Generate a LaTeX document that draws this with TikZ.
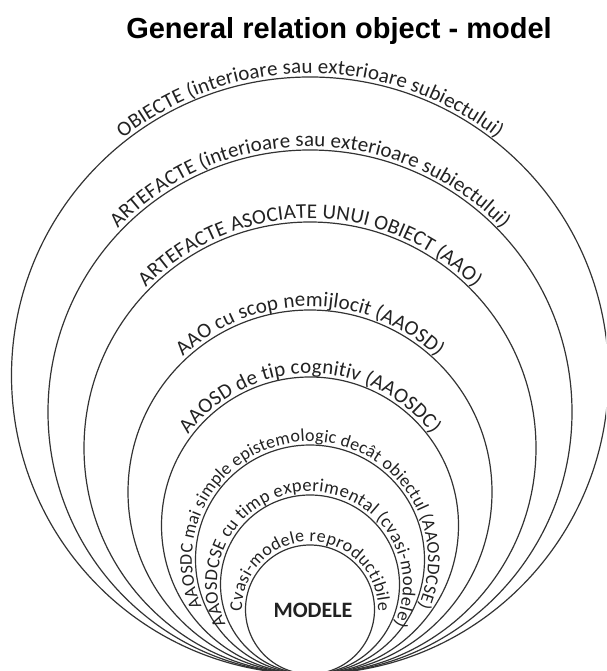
\documentclass[tikz,border=0pt]{standalone}
\usepackage{fontspec}
\setmainfont{Carlito}
\newfontfamily\titlefont{Liberation Sans}
\usetikzlibrary{decorations.text}
\definecolor{ink}{HTML}{222222}
\definecolor{ring}{HTML}{333333}
\tikzset{
  ringline/.style={draw=ring, line width=1.2pt},
}
% #1 radius, #2 font size, #3 text
\newcommand\ringlabel[3]{%
  \path[decorate, decoration={text along path, text align=center, raise=3.5pt,
      text color=ink, text={|\fontsize{#2}{#2}\selectfont|#3}}]
    (310,#1-3) ++(240:#1pt) arc[start angle=240, end angle=-60, radius=#1pt];%
  \draw[ringline] (310,#1-3) circle[radius=#1pt];%
}
\begin{document}
\begin{tikzpicture}[x=1pt,y=1pt]
\useasboundingbox (0,0) rectangle (606,671);
\clip (0,0) rectangle (606,671);
\node[font=\titlefont\bfseries\fontsize{29}{29}\selectfont, anchor=base, text=black]
  (title) at (339,632) {General relation object - model};
\ringlabel{298.5}{21}{OBIECTE (interioare sau exterioare subiectului)}
\ringlabel{262}{21}{ARTEFACTE (interioare sau exterioare subiectului)}
\ringlabel{226}{21}{ARTEFACTE ASOCIATE UNUI OBIECT (AAO)}
\ringlabel{182}{21}{AAO cu scop nemijlocit (AAOSD)}
\ringlabel{148.5}{21}{AAOSD de tip cognitiv (AAOSDC)}
\ringlabel{114.5}{18}{AAOSDC mai simple epistemologic decât obiectul (AAOSDCSE)}
\ringlabel{89.5}{18.5}{AAOSDCSE cu timp experimental (cvasi-modele)}
\ringlabel{64.5}{18}{Cvasi-modele reproductibile}
\node[font=\bfseries\fontsize{22}{22}\selectfont, anchor=base, text=ink]
  (modele) at (313,53) {MODELE};
\end{tikzpicture}
\end{document}
